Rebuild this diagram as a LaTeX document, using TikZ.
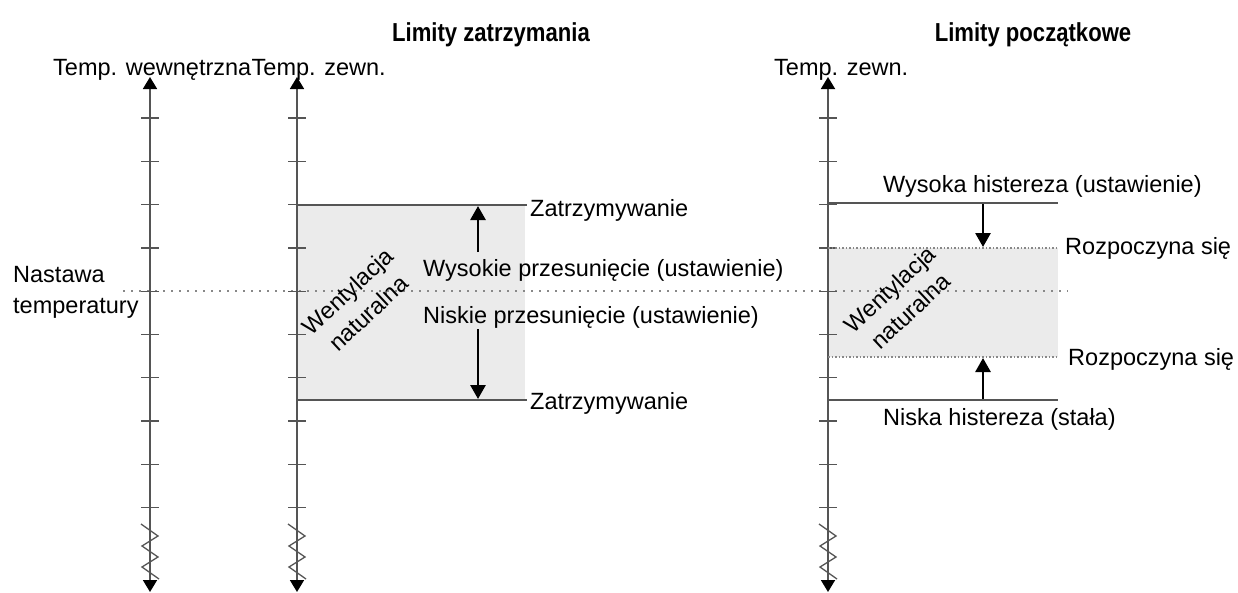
\documentclass[tikz,border=0pt]{standalone}
\usepackage{fontspec}
\setmainfont{Liberation Sans}
\usetikzlibrary{arrows.meta}
\definecolor{axisgray}{HTML}{555555}
\definecolor{fillgray}{HTML}{EBEBEB}
\definecolor{dotgray}{HTML}{888888}
\begin{document}
\begin{tikzpicture}[x=1pt,y=-1pt,
  lbl/.style={font=\fontsize{23.5}{28}\selectfont, inner sep=0pt, anchor=base west},
  ttl/.style={font=\fontsize{26}{30}\selectfont\bfseries\addfontfeature{FakeStretch=0.85}, inner sep=0pt, anchor=base},
  axisline/.style={draw=axisgray, line width=1.8pt,
     {Triangle[width=14pt,length=12pt,color=black]}-{Triangle[width=14pt,length=12pt,color=black]}},
  tickmark/.style={draw=axisgray, line width=1.3pt},
  level/.style={draw=axisgray, line width=1.7pt},
  dotlevel/.style={draw=dotgray, line width=1.4pt, dash pattern=on 1.5pt off 2pt},
  spline/.style={draw=dotgray, line width=1.4pt, dash pattern=on 1.5pt off 6.5pt},
  zig/.style={draw=axisgray, line width=1.3pt},
  move/.style={draw=black, line width=2.8pt, -{Triangle[width=15pt,length=14pt]}},
  band/.style={fill=fillgray, draw=none},
  rot/.style={font=\fontsize{23.5}{30}\selectfont, align=center, rotate=43, inner sep=0pt}
]
\useasboundingbox (0,0) rectangle (1238,592);

% grey bands
\fill[band] (297,205) rectangle (525,400);
\fill[band] (828,248) rectangle (1058,357);

% setpoint dotted line
\coordinate (spl) at (123,291);
\coordinate (spr) at (1068,291);
\draw[spline] (spl) -- (spr);

% axes
\foreach \n/\x in {a/150, b/297, c/828}{
  \coordinate (\n top) at (\x,77);
  \coordinate (\n bot) at (\x,592);
  \foreach \y in {118,161.3,204.6,248,291.2,334.5,377.8,421,464.4,507.7}
    \draw[tickmark] (\x-9,\y) -- (\x+9,\y);
  \draw[zig] (\x-9,524) -- (\x+8,536) -- (\x-8,546) -- (\x+8,557) -- (\x-8,567) -- (\x+9,579);
  \draw[axisline] (\n top) -- (\n bot);
}

% left panel levels
\coordinate (l1a) at (297,205); \coordinate (l1b) at (527,205);
\coordinate (l2a) at (297,400); \coordinate (l2b) at (527,400);
\draw[level] (l1a) -- (l1b);
\draw[level] (l2a) -- (l2b);
\coordinate (up1s) at (478,252); \coordinate (up1e) at (478,206);
\coordinate (dn1s) at (478,329); \coordinate (dn1e) at (478,399);
\draw[move] (up1s) -- (up1e);
\draw[move] (dn1s) -- (dn1e);

% right panel levels
\coordinate (r1a) at (828,203); \coordinate (r1b) at (1058,203);
\coordinate (r2a) at (828,248); \coordinate (r2b) at (1058,248);
\coordinate (r3a) at (828,357); \coordinate (r3b) at (1058,357);
\coordinate (r4a) at (828,400); \coordinate (r4b) at (1058,400);
\draw[level] (r1a) -- (r1b);
\draw[dotlevel] (r2a) -- (r2b);
\draw[dotlevel] (r3a) -- (r3b);
\draw[level] (r4a) -- (r4b);
\coordinate (dn2s) at (983,204); \coordinate (dn2e) at (983,247);
\coordinate (up2s) at (983,399); \coordinate (up2e) at (983,358);
\draw[move] (dn2s) -- (dn2e);
\draw[move] (up2s) -- (up2e);

% titles
\node[ttl] (t1) at (491,41) {Limity zatrzymania};
\node[ttl] (t2) at (1033,41) {Limity początkowe};

% axis labels
\node[lbl] (h1) at (53,75) {Temp. wewnętrzna};
\node[lbl, anchor=base west] (h2) at (h1.base east) {Temp. zewn.};
\node[lbl] (h3) at (774,75) {Temp. zewn.};

% setpoint label
\node[lbl] (sp1) at (13,282) {Nastawa};
\node[lbl] (sp2) at (13,313) {temperatury};

% left labels
\node[lbl] (z1) at (530,216) {Zatrzymywanie};
\node[lbl] (z2) at (530,409) {Zatrzymywanie};
\node[lbl] (w1) at (423,276) {Wysokie przesunięcie (ustawienie)};
\node[lbl] (n1) at (423,323) {Niskie przesunięcie (ustawienie)};
\node[rot] (wn1) at (358,302) {Wentylacja\\naturalna};

% right labels
\node[lbl] (wh) at (883,192) {Wysoka histereza (ustawienie)};
\node[lbl] (rs1) at (1065,254) {Rozpoczyna się};
\node[lbl] (rs2) at (1068,365) {Rozpoczyna się};
\node[lbl] (nh) at (883,425) {Niska histereza (stała)};
\node[rot] (wn2) at (900,300) {Wentylacja\\naturalna};
\end{tikzpicture}
\end{document}
